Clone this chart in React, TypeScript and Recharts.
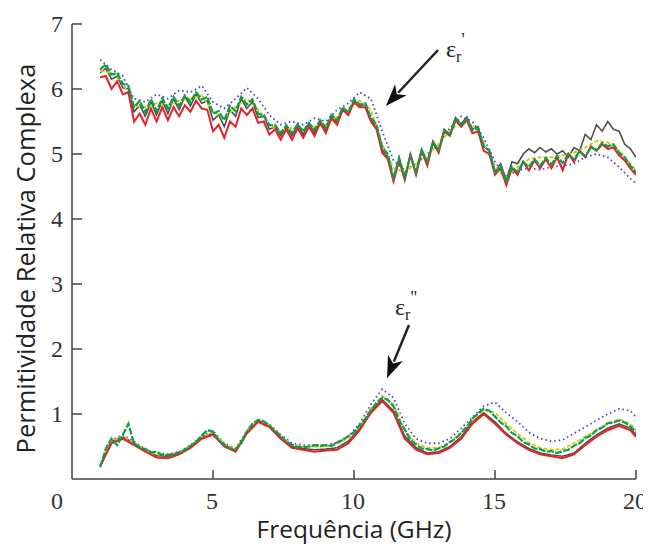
import React from 'react';
import { LineChart, Line, XAxis, YAxis, ReferenceLine } from 'recharts';

// Frequencies (GHz)
const FREQ_FINE = [
  1.0, 1.2, 1.4, 1.6, 1.8, 2.0, 2.2, 2.4, 2.6, 2.8,
  3.0, 3.2, 3.4, 3.6, 3.8, 4.0, 4.2, 4.4, 4.6, 4.8,
  5.0, 5.2, 5.4, 5.6, 5.8, 6.0, 6.2, 6.4, 6.6, 6.8,
  7.0, 7.2, 7.4, 7.6, 7.8, 8.0, 8.2, 8.4, 8.6, 8.8,
  9.0, 9.2, 9.4, 9.6, 9.8, 10.0, 10.2, 10.4, 10.6, 10.8,
  11.0, 11.2, 11.4, 11.6, 11.8, 12.0, 12.2, 12.4, 12.6, 12.8,
  13.0, 13.2, 13.4, 13.6, 13.8, 14.0, 14.2, 14.4, 14.6, 14.8,
  15.0, 15.2, 15.4, 15.6, 15.8, 16.0, 16.2, 16.4, 16.6, 16.8,
  17.0, 17.2, 17.4, 17.6, 17.8, 18.0, 18.2, 18.4, 18.6, 18.8,
  19.0, 19.2, 19.4, 19.6, 19.8, 20.0,
];

const FREQ_COARSE = [
  1.0, 1.4, 1.8, 2.2, 2.6, 3.0, 3.4, 3.8, 4.2, 4.6,
  5.0, 5.4, 5.8, 6.2, 6.6, 7.0, 7.4, 7.8, 8.2, 8.6,
  9.0, 9.4, 9.8, 10.2, 10.6, 11.0, 11.4, 11.8, 12.2, 12.6,
  13.0, 13.4, 13.8, 14.2, 14.6, 15.0, 15.4, 15.8, 16.2, 16.6,
  17.0, 17.4, 17.8, 18.2, 18.6, 19.0, 19.4, 19.8, 20.0,
];

// Real part (upper curves)
const REAL_GREEN = [
  6.30, 6.38, 6.22, 6.25, 6.08, 6.05, 5.72, 5.82, 5.64, 5.84,
  5.66, 5.86, 5.7, 5.88, 5.74, 5.9, 5.8, 5.95, 5.84, 5.88,
  5.62, 5.66, 5.52, 5.74, 5.66, 5.88, 5.76, 5.84, 5.62, 5.6,
  5.44, 5.45, 5.32, 5.44, 5.32, 5.46, 5.34, 5.48, 5.37, 5.52,
  5.4, 5.6, 5.52, 5.72, 5.64, 5.84, 5.76, 5.78, 5.56, 5.45,
  5.1, 5.0, 4.62, 4.94, 4.64, 4.98, 4.72, 5.06, 4.88, 5.18,
  5.06, 5.36, 5.3, 5.54, 5.46, 5.55, 5.37, 5.4, 5.12, 5.05,
  4.72, 4.8, 4.57, 4.8, 4.72, 4.88, 4.8, 4.92, 4.82, 4.94,
  4.84, 4.97, 4.86, 5.0, 4.92, 5.04, 4.97, 5.1, 5.06, 5.17,
  5.12, 5.15, 5.02, 4.95, 4.82, 4.72,
];

const REAL_RED = [
  6.18, 6.2, 6.0, 6.12, 5.92, 5.95, 5.5, 5.62, 5.45, 5.7,
  5.5, 5.72, 5.52, 5.72, 5.58, 5.75, 5.65, 5.82, 5.7, 5.68,
  5.35, 5.45, 5.25, 5.5, 5.42, 5.7, 5.6, 5.7, 5.48, 5.5,
  5.3, 5.38, 5.22, 5.38, 5.22, 5.4, 5.25, 5.42, 5.28, 5.48,
  5.32, 5.55, 5.45, 5.68, 5.6, 5.8, 5.72, 5.72, 5.5, 5.38,
  5.02, 4.92, 4.58, 4.9, 4.6, 4.98, 4.68, 5.05, 4.82, 5.18,
  5.02, 5.35, 5.28, 5.52, 5.42, 5.52, 5.32, 5.35, 5.05, 5.0,
  4.68, 4.78, 4.52, 4.78, 4.68, 4.88, 4.75, 4.9, 4.78, 4.92,
  4.78, 4.95, 4.75, 5.0, 4.88, 5.05, 4.95, 5.12, 5.05, 5.15,
  5.08, 5.1, 4.98, 4.9, 4.78, 4.68,
];

const REAL_BLACK = [
  6.25, 6.32, 6.15, 6.2, 6.02, 6.0, 5.65, 5.75, 5.58, 5.8,
  5.6, 5.82, 5.62, 5.85, 5.68, 5.88, 5.74, 5.92, 5.78, 5.82,
  5.52, 5.6, 5.42, 5.68, 5.58, 5.85, 5.7, 5.8, 5.56, 5.58,
  5.38, 5.42, 5.28, 5.42, 5.28, 5.45, 5.3, 5.47, 5.32, 5.5,
  5.36, 5.58, 5.48, 5.7, 5.6, 5.83, 5.74, 5.76, 5.52, 5.42,
  5.06, 4.96, 4.6, 4.94, 4.62, 5.0, 4.7, 5.07, 4.85, 5.2,
  5.05, 5.38, 5.3, 5.56, 5.46, 5.57, 5.38, 5.42, 5.12, 5.05,
  4.72, 4.85, 4.6, 4.88, 4.85, 5.0, 5.08, 5.02, 5.1, 5.03,
  5.08, 5.0, 5.05, 4.95, 5.1, 5.05, 5.3, 5.22, 5.45, 5.35,
  5.5, 5.38, 5.35, 5.15, 5.08, 4.95,
];

const REAL_BLUE = [
  6.45, 6.3, 6.2, 5.85, 5.8, 5.92, 5.85, 5.98, 5.95, 6.05,
  5.8, 5.7, 5.85, 6.02, 5.85, 5.6, 5.45, 5.5, 5.45, 5.55,
  5.5, 5.68, 5.78, 5.95, 5.85, 5.35, 4.9, 4.75, 4.85, 5.0,
  5.15, 5.4, 5.58, 5.5, 5.25, 4.88, 4.65, 4.75, 4.78, 4.76,
  4.8, 4.82, 4.85, 4.95, 5.0, 4.95, 4.8, 4.62, 4.55,
];

const REAL_YELLOW = [
  6.28, 6.25, 6.1, 5.75, 5.72, 5.78, 5.75, 5.82, 5.85, 5.9,
  5.65, 5.55, 5.72, 5.85, 5.68, 5.45, 5.35, 5.4, 5.38, 5.42,
  5.45, 5.58, 5.7, 5.82, 5.68, 5.15, 4.78, 4.72, 4.85, 4.98,
  5.15, 5.35, 5.5, 5.45, 5.18, 4.8, 4.62, 4.8, 4.92, 4.95,
  4.95, 4.98, 5.02, 5.1, 5.2, 5.18, 5.05, 4.85, 4.75,
];

// Imaginary part (lower curves)
const IMAG_GREEN = [
  0.18, 0.47, 0.62, 0.52, 0.68, 0.85, 0.55, 0.48, 0.46, 0.41,
  0.42, 0.37, 0.37, 0.38, 0.41, 0.44, 0.51, 0.57, 0.67, 0.75,
  0.73, 0.6, 0.53, 0.47, 0.46, 0.55, 0.73, 0.85, 0.91, 0.89,
  0.82, 0.74, 0.67, 0.57, 0.53, 0.49, 0.49, 0.5, 0.52, 0.51,
  0.52, 0.51, 0.56, 0.6, 0.66, 0.72, 0.83, 0.92, 1.06, 1.17,
  1.25, 1.22, 1.12, 0.9, 0.76, 0.6, 0.53, 0.47, 0.46, 0.44,
  0.47, 0.5, 0.57, 0.62, 0.71, 0.8, 0.93, 1.01, 1.08, 1.05,
  0.96, 0.87, 0.81, 0.71, 0.66, 0.57, 0.53, 0.47, 0.46, 0.42,
  0.43, 0.4, 0.43, 0.45, 0.51, 0.55, 0.63, 0.67, 0.75, 0.79,
  0.86, 0.87, 0.9, 0.87, 0.81, 0.72,
];

const IMAG_RED = [
  0.2, 0.55, 0.62, 0.52, 0.42, 0.33, 0.32, 0.38, 0.48, 0.62,
  0.68, 0.5, 0.42, 0.7, 0.88, 0.8, 0.62, 0.48, 0.45, 0.42,
  0.44, 0.45, 0.55, 0.75, 1.02, 1.2, 1.02, 0.62, 0.45, 0.38,
  0.4, 0.48, 0.62, 0.85, 1.0, 0.85, 0.68, 0.55, 0.45, 0.38,
  0.35, 0.32, 0.38, 0.52, 0.65, 0.75, 0.82, 0.75, 0.65,
];

const IMAG_BLACK = [
  0.2, 0.58, 0.65, 0.55, 0.45, 0.36, 0.35, 0.4, 0.5, 0.65,
  0.7, 0.52, 0.44, 0.72, 0.9, 0.82, 0.64, 0.5, 0.47, 0.45,
  0.46, 0.48, 0.58, 0.78, 1.05, 1.22, 1.05, 0.66, 0.48, 0.4,
  0.42, 0.5, 0.65, 0.88, 1.02, 0.88, 0.7, 0.57, 0.47, 0.4,
  0.37, 0.35, 0.4, 0.55, 0.68, 0.78, 0.85, 0.78, 0.68,
];

const IMAG_BLUE = [
  0.2, 0.6, 0.68, 0.58, 0.45, 0.4, 0.38, 0.42, 0.52, 0.66,
  0.74, 0.55, 0.47, 0.74, 0.9, 0.84, 0.68, 0.55, 0.52, 0.52,
  0.52, 0.56, 0.66, 0.85, 1.15, 1.38, 1.25, 0.85, 0.62, 0.55,
  0.55, 0.62, 0.78, 0.95, 1.12, 1.18, 1.02, 0.88, 0.72, 0.62,
  0.58, 0.6, 0.7, 0.8, 0.9, 1.0, 1.08, 1.05, 0.95,
];

const IMAG_YELLOW = [
  0.2, 0.58, 0.66, 0.56, 0.44, 0.38, 0.37, 0.41, 0.51, 0.65,
  0.72, 0.54, 0.46, 0.73, 0.9, 0.83, 0.66, 0.53, 0.5, 0.5,
  0.5, 0.54, 0.63, 0.8, 1.08, 1.28, 1.15, 0.75, 0.55, 0.48,
  0.48, 0.56, 0.72, 0.9, 1.06, 1.02, 0.85, 0.7, 0.56, 0.48,
  0.45, 0.46, 0.55, 0.65, 0.76, 0.85, 0.92, 0.85, 0.76,
];

const X_TICKS = [0, 5, 10, 15, 20];
const Y_TICKS = [1, 2, 3, 4, 5, 6, 7];

// Annotation arrows (data coordinates): tail -> tip
const ARROW_REAL = [{ x: 12.98, y: 6.6 }, { x: 11.13, y: 5.74 }];
const ARROW_IMAG = [{ x: 11.95, y: 2.37 }, { x: 11.17, y: 1.55 }];

const SERIF = "'Liberation Serif'";
const SANS = "'Open Sans'";
const AXIS = '#444';

const pairs = (fs: number[], vs: number[]) =>
  fs.slice(0, vs.length).map((f, i) => ({ f, v: vs[i] }));

const SERIES = [
  { key: 'black', color: '#505050', width: 1.6, dash: undefined, real: pairs(FREQ_FINE, REAL_BLACK), imag: pairs(FREQ_COARSE, IMAG_BLACK) },
  { key: 'blue', color: '#4a3fd4', width: 1.8, dash: '1.5 3', real: pairs(FREQ_COARSE, REAL_BLUE), imag: pairs(FREQ_COARSE, IMAG_BLUE) },
  { key: 'yellow', color: '#c6d20a', width: 1.8, dash: '4 2', real: pairs(FREQ_COARSE, REAL_YELLOW), imag: pairs(FREQ_COARSE, IMAG_YELLOW) },
  { key: 'red', color: '#e3222a', width: 2, dash: undefined, real: pairs(FREQ_FINE, REAL_RED), imag: pairs(FREQ_COARSE, IMAG_RED) },
  { key: 'green', color: '#119c4a', width: 2.2, dash: '7 1.5', real: pairs(FREQ_FINE, REAL_GREEN), imag: pairs(FREQ_FINE, IMAG_GREEN) },
];

const XTick = (props: any) => {
  const { x, y, payload } = props;
  const v = payload.value;
  return (
    <g>
      {v !== 0 && <line x1={x} y1={y} x2={x} y2={y - 9} stroke={AXIS} strokeWidth={1.5} />}
      <text x={v === 0 ? x - 15 : x - 1} y={y + 30} textAnchor="middle" style={{ fontFamily: SERIF, fontSize: 24 }} fill="#333">
        {String(v)}
      </text>
    </g>
  );
};

const YTick = (props: any) => {
  const { x, y, payload } = props;
  return (
    <g>
      <line x1={x} y1={y} x2={x + 10} y2={y} stroke={AXIS} strokeWidth={1.5} />
      <text x={x - 9} y={y + 8} textAnchor="end" style={{ fontFamily: SERIF, fontSize: 24 }} fill="#333">
        {String(payload.value)}
      </text>
    </g>
  );
};

const makeArrow = (primes: string, dx: number, dy: number) => (props: any) => {
  const { x1, y1, x2, y2 } = props;
  if ([x1, y1, x2, y2].some((n) => typeof n !== 'number' || isNaN(n))) return <g />;
  const len = Math.hypot(x2 - x1, y2 - y1);
  const ux = (x2 - x1) / len;
  const uy = (y2 - y1) / len;
  const L = 22;
  const W = 8;
  const bx = x2 - ux * L;
  const by = y2 - uy * L;
  const nx = -uy;
  const ny = ux;
  return (
    <g>
      <line x1={x1} y1={y1} x2={bx + ux * 4} y2={by + uy * 4} stroke="#222" strokeWidth={2.5} />
      <polygon
        points={`${x2},${y2} ${bx + nx * W},${by + ny * W} ${bx + ux * 6},${by + uy * 6} ${bx - nx * W},${by - ny * W}`}
        fill="#111"
      />
      <text x={x1 + dx} y={y1 + dy} style={{ fontFamily: SERIF, fontSize: 24 }} fill="#222">
        ε
        <tspan style={{ fontSize: 16 }} dy={5}>r</tspan>
        <tspan style={{ fontSize: 18 }} dy={-16}>{primes}</tspan>
      </text>
    </g>
  );
};

const XTitle = (props: any) => {
  const { viewBox } = props;
  if (!viewBox) return null;
  return (
    <text x={viewBox.x + viewBox.width / 2} y={viewBox.y + 59} textAnchor="middle" style={{ fontFamily: SANS, fontSize: 24.5 }} fill="#222">
      Frequência (GHz)
    </text>
  );
};

const YTitle = (props: any) => {
  const { viewBox } = props;
  if (!viewBox) return null;
  const cx = 17;
  const cy = viewBox.y + viewBox.height / 2 + 7;
  return (
    <text x={cx} y={cy} transform={`rotate(-90 ${cx} ${cy})`} textAnchor="middle" dominantBaseline="central" style={{ fontFamily: SANS, fontSize: 25.5 }} fill="#222">
      Permitividade Relativa Complexa
    </text>
  );
};

export default function App() {
  return (
    <div style={{ width: 643, height: 540, background: '#fff' }}>
      <LineChart width={643} height={540} margin={{ top: 16, right: 15, bottom: 0, left: 0 }}>
        <XAxis
          type="number"
          dataKey="f"
          domain={[0, 20]}
          ticks={X_TICKS}
          interval={0}
          allowDataOverflow
          tick={XTick}
          tickLine={false}
          tickSize={0}
          tickMargin={0}
          height={69}
          axisLine={{ stroke: AXIS, strokeWidth: 1.5 }}
          label={{ content: <XTitle /> }}
        />
        <YAxis
          type="number"
          domain={[0, 7]}
          ticks={Y_TICKS}
          interval={0}
          allowDataOverflow
          tick={YTick}
          tickLine={false}
          tickSize={0}
          tickMargin={0}
          width={64}
          axisLine={{ stroke: AXIS, strokeWidth: 1.5 }}
          label={{ content: <YTitle /> }}
        />
        {SERIES.map((s) => (
          <Line
            key={s.key + '-real'}
            data={s.real}
            dataKey="v"
            type="linear"
            stroke={s.color}
            strokeWidth={s.width}
            strokeDasharray={s.dash}
            dot={false}
            activeDot={false}
            isAnimationActive={false}
          />
        ))}
        {SERIES.map((s) => (
          <Line
            key={s.key + '-imag'}
            data={s.imag}
            dataKey="v"
            type="linear"
            stroke={s.color}
            strokeWidth={s.width}
            strokeDasharray={s.dash}
            dot={false}
            activeDot={false}
            isAnimationActive={false}
          />
        ))}
        <ReferenceLine segment={ARROW_REAL} ifOverflow="visible" shape={makeArrow("'", 8, 7)} />
        <ReferenceLine segment={ARROW_IMAG} ifOverflow="visible" shape={makeArrow("''", -14, -10)} />
      </LineChart>
    </div>
  );
}
